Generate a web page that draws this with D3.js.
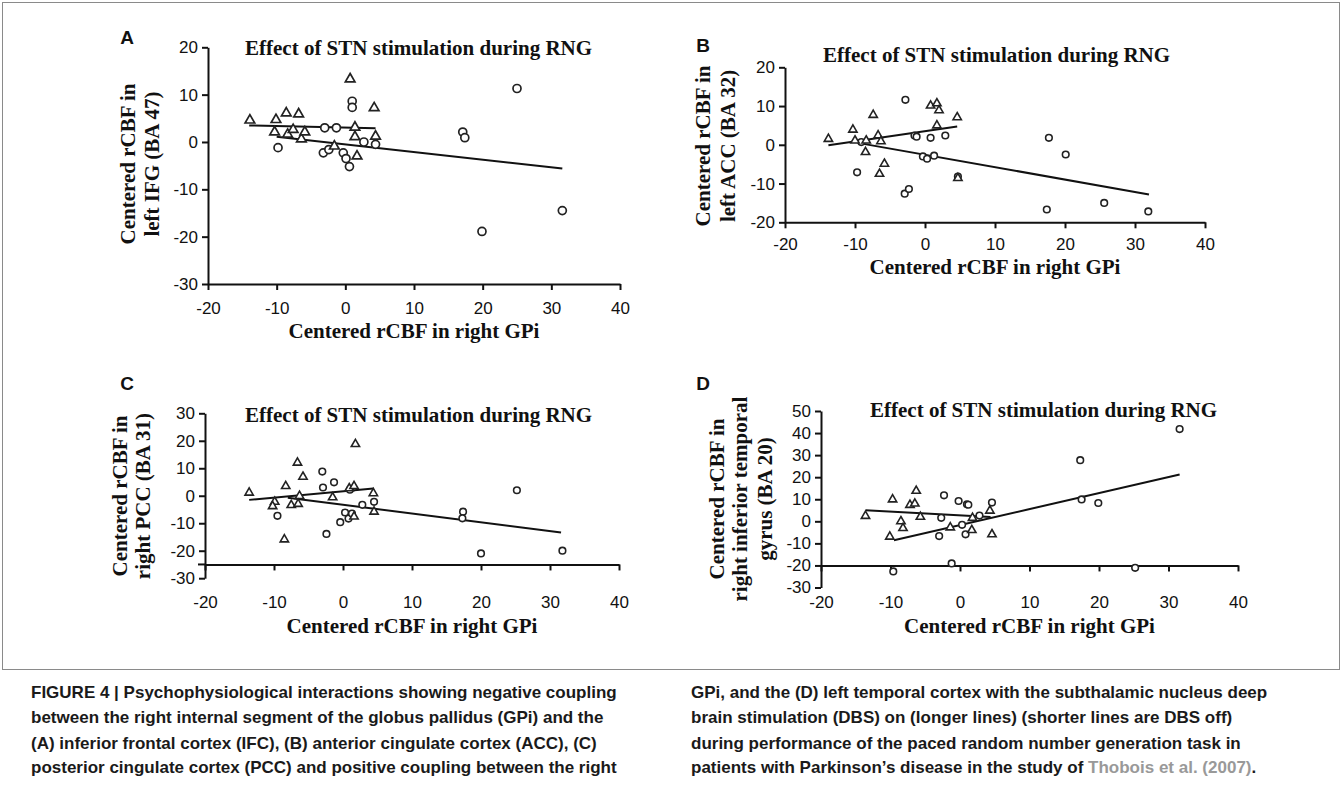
<!DOCTYPE html>
<html>
<head>
<meta charset="utf-8">
<script src="https://cdn.jsdelivr.net/npm/d3@7"></script>
<style>
  body { margin: 0; background: #fff; }
  svg { display: block; }
  .tick text { font-family: "Liberation Sans", Arial, sans-serif; font-size: 17px; fill: #111; }
  .serif { font-family: "Liberation Serif", "Times New Roman", serif; font-weight: bold; fill: #111; }
  .cap { font-family: "Liberation Sans", Arial, sans-serif; font-weight: bold; font-size: 17px; fill: #1a1a1a; }
</style>
</head>
<body>
<script>
// ---- data ----
const xTicks = [-20, -10, 0, 10, 20, 30, 40];
const yTicksA = [20, 10, 0, -10, -20, -30];
const yTicksB = [20, 10, 0, -10, -20];
const yTicksC = [30, 20, 10, 0, -10, -20, -30];
const yTicksD = [50, 40, 30, 20, 10, 0, -10, -20, -30];

const plotTitle = "Effect of STN stimulation during RNG";
const xTitle = "Centered rCBF in right GPi";
const yTitleA = ["Centered rCBF in", "left IFG (BA 47)"];
const yTitleB = ["Centered rCBF in", "left ACC (BA 32)"];
const yTitleC = ["Centered rCBF in", "right PCC (BA 31)"];
const yTitleD = ["Centered rCBF in", "right inferior temporal", "gyrus (BA 20)"];

// triangles = DBS off, circles = DBS on
const triA = [[-13.9,4.6],[-10.1,4.7],[-8.6,6.1],[-6.8,5.9],[-10.3,2.1],[-8.4,1.6],[-7.6,2.6],[-6.4,0.6],
  [-5.9,2.1],[-1.6,-0.9],[0.7,13.3],[1.4,3.1],[1.4,1.1],[1.7,-3.0],[4.2,7.2],[4.4,1.2]];
const circA = [[-9.8,-1.2],[-3.0,3.0],[-1.3,3.0],[-3.2,-2.3],[-2.4,-1.6],[-0.3,-2.3],[0.1,-3.5],[0.6,-5.2],
  [1.0,8.6],[1.0,7.3],[2.7,0.0],[4.4,-0.5],[17.1,2.1],[17.4,0.9],[19.9,-18.9],[25.0,11.3],[31.6,-14.5]];
const fitOffA = [[-14,3.5],[4.4,2.9]];
const fitOnA = [[-10,1.1],[31.6,-5.6]];

const triB = [[-13.8,1.5],[-10.3,3.9],[-10.0,1.1],[-8.4,1.1],[-8.5,-1.9],[-7.4,7.7],[-6.7,2.4],[-6.3,0.9],
  [-6.5,-7.5],[-5.8,-4.9],[0.8,10.1],[1.7,10.7],[2.0,8.9],[1.7,5.0],[4.6,7.1],[4.7,-8.6]];
const circB = [[-9.7,-7.1],[-9.1,0.7],[-2.8,11.6],[-2.9,-12.6],[-2.3,-11.4],[-1.5,2.4],[-1.2,2.1],[-0.3,-3.0],
  [0.3,-3.6],[0.8,1.8],[1.3,-2.8],[2.9,2.4],[4.7,-8.2],[17.7,1.8],[20.1,-2.5],[17.4,-16.7],[25.6,-15.0],[31.9,-17.2]];
const fitOffB = [[-13.8,-0.1],[4.6,4.7]];
const fitOnB = [[-9,0.3],[32,-12.8]];

const triC = [[-13.6,1.1],[-8.3,3.5],[-6.6,12.0],[-5.8,6.9],[-9.9,-2.2],[-10.2,-3.8],[-7.5,-3.4],[-6.3,-0.1],
  [-6.5,-3.0],[-8.5,-15.9],[-1.5,-0.6],[0.9,2.7],[1.6,3.5],[1.8,18.8],[1.6,-7.6],[4.4,0.9],[4.5,-5.8]];
const circC = [[-9.5,-7.3],[-3.0,8.8],[-2.9,3.0],[-1.3,4.9],[-2.4,-13.9],[-0.4,-9.6],[0.3,-6.1],[0.8,-8.3],
  [1.3,-6.5],[1.0,2.2],[2.8,-3.3],[4.5,-2.2],[17.4,-5.8],[17.3,-8.2],[20.0,-21.0],[25.2,2.0],[31.8,-20.0]];
const fitOffC = [[-13.6,-1.5],[4.4,2.6]];
const fitOnC = [[-8,-0.7],[31.6,-13.4]];

const triD = [[-13.6,2.4],[-9.7,9.9],[-10.1,-7.0],[-8.5,0.0],[-8.2,-3.1],[-7.2,7.4],[-6.5,8.0],[-6.3,13.8],
  [-5.7,2.0],[-1.4,-2.8],[1.7,-4.0],[1.8,1.5],[4.3,4.8],[4.6,-5.9]];
const circD = [[-2.3,11.8],[-2.7,1.6],[-3.0,-6.7],[-0.2,9.2],[1.0,7.7],[1.2,7.5],[0.3,-1.6],[0.8,-5.9],
  [2.8,2.6],[4.6,8.5],[-1.2,-19.1],[-9.6,-22.7],[17.3,27.7],[17.5,9.9],[19.9,8.3],[31.6,41.8],[25.2,-21.1]];
const fitOffD = [[-13.6,5.0],[4.4,2.0]];
const fitOnD = [[-9.5,-8.6],[31.6,21.2]];

const captionLeft = [
  "FIGURE 4 | Psychophysiological interactions showing negative coupling",
  "between the right internal segment of the globus pallidus (GPi) and the",
  "(A) inferior frontal cortex (IFC), (B) anterior cingulate cortex (ACC), (C)",
  "posterior cingulate cortex (PCC) and positive coupling between the right"
];
const captionRight = [
  "GPi, and the (D) left temporal cortex with the subthalamic nucleus deep",
  "brain stimulation (DBS) on (longer lines) (shorter lines are DBS off)",
  "during performance of the paced random number generation task in",
  "patients with Parkinson\u2019s disease in the study of "
];
const captionRef = "Thobois et al. (2007)";

// ---- layout ----
const panels = [
  { letter: "A", lx: 127, ly: 37, xr: [208, 620], yDom: [-30, 20], yr: [284, 47.3], yTicks: yTicksA,
    xLine: -30, xLabelY: 308, xTitleY: 331, titleX: 245, titleY: 48,
    yTitle: yTitleA, yTitleX: [128, 152], yTitleY: 164, tri: triA, circ: circA, off: fitOffA, on: fitOnA, big: true },
  { letter: "B", lx: 703, ly: 45, xr: [785, 1205], yDom: [-20, 20], yr: [222.3, 67.3], yTicks: yTicksB,
    xLine: -20, xLabelY: 244, xTitleY: 267, titleX: 823, titleY: 55,
    yTitle: yTitleB, yTitleX: [703, 728], yTitleY: 146, tri: triB, circ: circB, off: fitOffB, on: fitOnB },
  { letter: "C", lx: 127, ly: 383, xr: [205, 619], yDom: [-30, 30], yr: [578.2, 413.3], yTicks: yTicksC,
    xLine: -25, xLabelY: 602, xTitleY: 626, titleX: 245, titleY: 415, stub: 7,
    yTitle: yTitleC, yTitleX: [120, 143], yTitleY: 496, tri: triC, circ: circC, off: fitOffC, on: fitOnC },
  { letter: "D", lx: 703, ly: 383, xr: [821, 1238], yDom: [-30, 50], yr: [587.5, 411], yTicks: yTicksD,
    xLine: -20, xLabelY: 602, xTitleY: 626, titleX: 870, titleY: 410,
    yTitle: yTitleD, yTitleX: [717, 740, 765], yTitleY: 499, tri: triD, circ: circD, off: fitOffD, on: fitOnD }
];

const svg = d3.select("body").append("svg").attr("width", 1342).attr("height", 785);

// figure frame
svg.append("rect")
  .attr("x", 2.5).attr("y", 2.5).attr("width", 1337).attr("height", 667)
  .attr("fill", "none").attr("stroke", "#8a8a8a").attr("stroke-width", 1);

const plain = d => String(d);

function drawPanel(p) {
  const x = d3.scaleLinear().domain([-20, 40]).range(p.xr);
  const y = d3.scaleLinear().domain(p.yDom).range(p.yr);
  const g = svg.append("g");

  // y axis
  const ya = g.append("g").attr("transform", `translate(${p.xr[0]},0)`)
    .call(d3.axisLeft(y).tickValues(p.yTicks).tickFormat(plain).tickSize(6).tickSizeOuter(0).tickPadding(4));
  ya.selectAll(".domain, line").attr("stroke-width", 2).attr("stroke", "#111");

  // x axis line with ticks
  const xa = g.append("g").attr("transform", `translate(0,${y(p.xLine)})`)
    .call(d3.axisBottom(x).tickValues(xTicks).tickSize(6).tickSizeOuter(0).tickFormat(""));
  xa.selectAll(".domain, line").attr("stroke-width", 2).attr("stroke", "#111");
  if (p.stub) {
    xa.append("line").attr("x1", p.xr[0] - p.stub).attr("x2", p.xr[0])
      .attr("stroke", "#111").attr("stroke-width", 2);
  }

  // x tick labels
  const xl = g.append("g").attr("transform", `translate(0,${p.xLabelY})`)
    .call(d3.axisBottom(x).tickValues(xTicks).tickFormat(plain).tickSize(0).tickPadding(0));
  xl.select(".domain").remove();
  xl.selectAll("text").attr("y", 0).attr("dy", "0.35em");

  // titles
  g.append("text").attr("class", "serif").attr("font-size", 21)
    .attr("x", p.titleX).attr("y", p.titleY).attr("dy", "0.33em")
    .text(plotTitle);
  g.append("text").attr("class", "serif").attr("font-size", 21)
    .attr("x", x(10)).attr("y", p.xTitleY).attr("dy", "0.33em")
    .attr("text-anchor", "middle").text(xTitle);
  p.yTitle.forEach((t, i) => {
    g.append("text").attr("class", "serif").attr("font-size", 21)
      .attr("transform", `translate(${p.yTitleX[i]},${p.yTitleY}) rotate(-90)`)
      .attr("text-anchor", "middle").attr("dy", "0.33em").text(t);
  });
  g.append("text")
    .attr("x", p.lx).attr("y", p.ly).attr("dy", "0.36em").attr("text-anchor", "middle")
    .attr("font-family", "Liberation Sans, Arial, sans-serif").attr("font-weight", "bold")
    .attr("font-size", 19).attr("fill", "#111").text(p.letter);

  // regression lines
  const line = d3.line().x(d => x(d[0])).y(d => y(d[1]));
  [p.off, p.on].forEach(l => {
    g.append("path").attr("d", line(l)).attr("fill", "none")
      .attr("stroke", "#111").attr("stroke-width", 2);
  });

  // markers
  const r = p.big ? 4 : 3.3;
  const sw = p.big ? 1.7 : 1.6;
  g.append("g").selectAll("circle").data(p.circ).join("circle")
    .attr("cx", d => x(d[0])).attr("cy", d => y(d[1])).attr("r", r)
    .attr("fill", "#fff").attr("stroke", "#222").attr("stroke-width", sw);
  const tri = d3.symbol(d3.symbolTriangle, p.big ? 40 : 30);
  g.append("g").selectAll("path").data(p.tri).join("path")
    .attr("transform", d => `translate(${x(d[0])},${y(d[1])})`)
    .attr("d", tri)
    .attr("fill", "#fff").attr("stroke", "#222").attr("stroke-width", sw);
}

panels.forEach(drawPanel);

// caption
const capY = [698, 723, 749, 773];
captionLeft.forEach((t, i) => {
  svg.append("text").attr("class", "cap").attr("x", 31).attr("y", capY[i]).text(t);
});
captionRight.forEach((t, i) => {
  const txt = svg.append("text").attr("class", "cap").attr("x", 691).attr("y", capY[i]);
  txt.append("tspan").text(t);
  if (i === captionRight.length - 1) {
    txt.append("tspan").attr("fill", "#999").text(captionRef);
    txt.append("tspan").text(".");
  }
});
</script>
</body>
</html>
